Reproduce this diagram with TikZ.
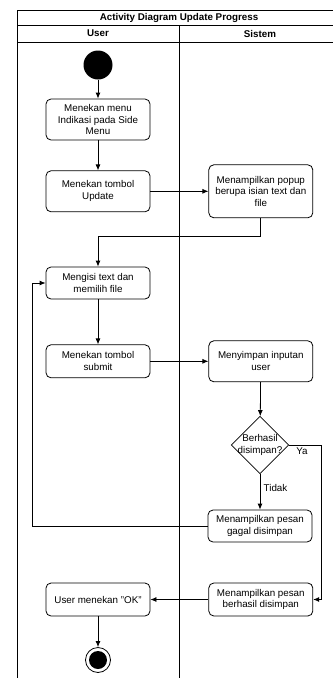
\documentclass[tikz,border=0pt]{standalone}
\usepackage{fontspec}
\setmainfont{Liberation Sans}
\setsansfont{Liberation Sans}
\usetikzlibrary{positioning}
\usetikzlibrary{shapes.geometric}
\usetikzlibrary{arrows.meta}

\begin{document}
\begin{tikzpicture}[->, >={Latex[length=6pt,width=5pt]}, line width=0.8pt, x=1pt, y=-1pt, font=\sffamily\fontsize{9.8}{11.7}\selectfont]
    \tikzstyle{act}=[draw=black, rectangle, rounded corners=5pt, text width=94pt, inner sep=5pt, align=flush center]
    \tikzstyle{decision}=[draw=black, diamond, aspect=1, inner sep=-2pt, align=center]
    \tikzstyle{startnode}=[circle, fill=black, minimum size=29pt, inner sep=0pt]
    \tikzstyle{endnode}=[circle, draw=black, minimum size=25pt, inner sep=0pt, path picture={\fill[black] (path picture bounding box.center) circle (9pt);}]
    \tikzstyle{lane}=[-, line width=0.8pt]
    \tikzstyle{lanehead}=[font=\sffamily\bfseries\fontsize{9.8}{11.7}\selectfont]

    \useasboundingbox (0,0) rectangle (333,678);

    %% Swimlanes
    \draw[lane] (17,678) -- (17,10) -- (333,10);
    \draw[lane] (17,25) -- (333,25);
    \draw[lane] (17,42) -- (333,42);
    \draw[lane] (179,25) -- (179,678);
    \node[lanehead] (title) at (179,17.5) {Activity Diagram Update Progress};
    \node[lanehead] (user) at (98,33.5) {User};
    \node[lanehead] (sistem) at (260,33.5) {Sistem};

    %% User
    \node[startnode] (init) at (98,65) {};
    \node[act, minimum height=41pt] (menu) at (98,119.5) {Menekan menu Indikasi pada Side Menu};
    \node[act, minimum height=41pt, below=30pt of menu] (update) {Menekan tombol Update};
    \node[act, minimum height=32pt] (isi) at (98,283) {Mengisi text dan memilih file};
    \node[act, minimum height=33pt, below=45pt of isi] (submit) {Menekan tombol submit};
    \node[act, minimum height=33pt] (ok) at (98,599.5) {User menekan "OK"};
    \node[endnode] (final) at (98,660) {};

    %% Sistem
    \node[act, minimum height=53pt, right=58pt of update] (popup) {Menampilkan popup berupa isian text dan file};
    \node[act, minimum height=41pt, right=58pt of submit] (simpan) {Menyimpan inputan user};
    \node[decision] (cek) at (260,445) {Berhasil\\disimpan?};
    \node[act, minimum height=32pt] (gagal) at (260,526) {Menampilkan pesan gagal disimpan};
    \node[act, minimum height=33pt, right=58pt of ok] (berhasil) {Menampilkan pesan berhasil disimpan};

    \path (init) edge (menu);
    \path (menu) edge (update);
    \path (update) edge (popup);
    \draw (popup.south) -- ++(0,18) -| (isi.north);
    \path (isi) edge (submit);
    \path (submit) edge (simpan);
    \path (simpan) edge (cek);
    \draw (cek.east) -- node[below, pos=0.4, inner sep=2pt] (ya) {Ya} ++(32,0) |- (berhasil.east);
    \path (cek) edge node[right, pos=0.4] (tidak) {Tidak} (gagal);
    \draw (gagal.west) -- ++(-175,0) |- (isi.west);
    \path (berhasil) edge (ok);
    \path (ok) edge (final);
\end{tikzpicture}
\end{document}
